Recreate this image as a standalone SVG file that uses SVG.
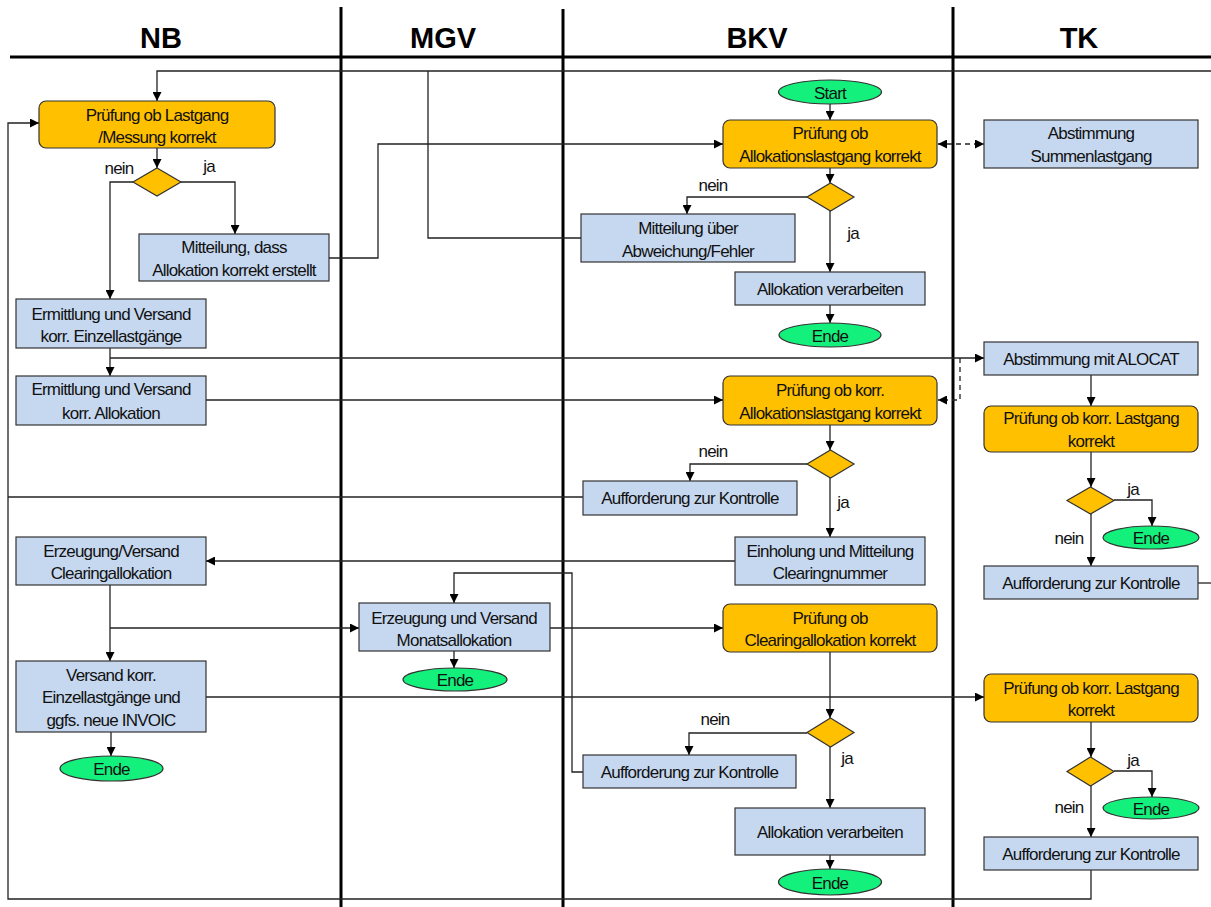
<svg xmlns="http://www.w3.org/2000/svg" width="1211" height="907" viewBox="0 0 1211 907">
<style>
text{font-family:"Liberation Sans",Arial,sans-serif;font-size:17px;letter-spacing:-0.8px;fill:#111;text-anchor:middle}
.hd{font-size:29px;font-weight:bold;fill:#000;letter-spacing:0}
.lane{stroke:#000;stroke-width:3;fill:none}
.c{stroke:#222;stroke-width:1.3;fill:none}
.ca{stroke:#222;stroke-width:1.3;fill:none;marker-end:url(#ah)}
.dash{stroke:#222;stroke-width:1.3;fill:none;stroke-dasharray:5,4}
.b{fill:#C6D8F0;stroke:#333;stroke-width:1.2}
.o{fill:#FFC000;stroke:#333;stroke-width:1.2}
.e{fill:#14F07C;stroke:#333;stroke-width:1.2}
</style>
<defs>
<marker id="ah" viewBox="0 0 10 10" refX="10" refY="5" markerWidth="9" markerHeight="9" markerUnits="userSpaceOnUse" orient="auto-start-reverse"><path d="M0,0 L10,5 L0,10 z" fill="#000"/></marker>
</defs>
<rect width="1211" height="907" fill="#fff"/>
<g id="lanes">
<line class="lane" x1="10" y1="57" x2="1211" y2="57"/>
<line class="lane" x1="341" y1="7" x2="341" y2="907"/>
<line class="lane" x1="563" y1="9" x2="563" y2="907"/>
<line class="lane" x1="953" y1="7" x2="953" y2="907"/>
<text class="hd" x="161" y="48">NB</text>
<text class="hd" x="443" y="48">MGV</text>
<text class="hd" x="757" y="48">BKV</text>
<text class="hd" x="1079" y="48">TK</text>
</g>
<g id="connectors">
<path class="ca" d="M830,104 V120"/>
<path class="ca" d="M830,168 V183"/>
<path class="ca" d="M807,197 H687 V214"/>
<path class="ca" d="M830,211 V272"/>
<path class="ca" d="M830,305 V323"/>
<path class="dash" d="M938,144 H984" marker-start="url(#ah)" marker-end="url(#ah)"/>
<path class="ca" d="M1211,71 H157 V101"/>
<path class="c" d="M581,238 H428 V71"/>
<path class="ca" d="M157,148 V168"/>
<path class="ca" d="M133,182 H110 V299"/>
<path class="ca" d="M180,182 H235 V234"/>
<path class="ca" d="M329,258 H378 V144 H723"/>
<path class="ca" d="M110,348 V376"/>
<path class="ca" d="M110,358 H984"/>
<path class="ca" d="M206,400 H723"/>
<path class="ca" d="M1091,375 V406"/>
<path class="dash" d="M960,358 V400 H938" marker-end="url(#ah)"/>
<path class="ca" d="M830,425 V450"/>
<path class="ca" d="M807,464 H690 V481"/>
<path class="ca" d="M830,478 V537"/>
<path class="c" d="M583,497 H8"/>
<path class="ca" d="M1091,870 V899 H8 V123 H39"/>
<path class="ca" d="M735,561 H206"/>
<path class="ca" d="M110,585 V661"/>
<path class="ca" d="M110,628 H359"/>
<path class="ca" d="M550,628 H723"/>
<path class="ca" d="M454,651 V668"/>
<path class="ca" d="M583,772 H572 V573 H454 V603"/>
<path class="ca" d="M830,652 V718"/>
<path class="ca" d="M807,733 H689 V755"/>
<path class="ca" d="M830,747 V808"/>
<path class="ca" d="M830,855 V869"/>
<path class="ca" d="M206,697 H984"/>
<path class="ca" d="M111,732 V756"/>
<path class="ca" d="M1091,452 V487"/>
<path class="ca" d="M1114,500 H1152 V526"/>
<path class="ca" d="M1091,514 V566"/>
<path class="c" d="M1198,583 H1211"/>
<path class="ca" d="M1091,722 V757"/>
<path class="ca" d="M1114,771 H1152 V797"/>
<path class="ca" d="M1091,786 V837"/>
</g>
<g id="labels">
<text x="119" y="174">nein</text>
<text x="209" y="172">ja</text>
<text x="713" y="191">nein</text>
<text x="853" y="239">ja</text>
<text x="713" y="457">nein</text>
<text x="843" y="508">ja</text>
<text x="715" y="725">nein</text>
<text x="847" y="764">ja</text>
<text x="1133" y="495">ja</text>
<text x="1069" y="544">nein</text>
<text x="1133" y="766">ja</text>
<text x="1069" y="813">nein</text>
</g>
<g id="nb_pruefung"><rect class="o" x="39" y="101" width="236" height="47" rx="7"/><text x="157" y="121">Prüfung ob Lastgang</text><text x="157" y="143">/Messung korrekt</text></g>
<g id="nb_dec"><polygon class="o" points="157,168 181,182 157,196 133,182"/></g>
<g id="nb_mitteilung"><rect class="b" x="139" y="234" width="190" height="47"/><text x="234" y="253">Mitteilung, dass</text><text x="234" y="276">Allokation korrekt erstellt</text></g>
<g id="nb_ermittlung1"><rect class="b" x="16" y="299" width="190" height="49"/><text x="111" y="320">Ermittlung und Versand</text><text x="111" y="342">korr.  Einzellastgänge</text></g>
<g id="nb_ermittlung2"><rect class="b" x="16" y="376" width="190" height="49"/><text x="111" y="395">Ermittlung und Versand</text><text x="111" y="419">korr. Allokation</text></g>
<g id="nb_erzeugung"><rect class="b" x="16" y="537" width="190" height="48"/><text x="111" y="557">Erzeugung/Versand</text><text x="111" y="579">Clearingallokation</text></g>
<g id="nb_versand"><rect class="b" x="16" y="661" width="190" height="71"/><text x="111" y="681">Versand korr.</text><text x="111" y="703">Einzellastgänge und</text><text x="111" y="726">ggfs. neue INVOIC</text></g>
<g id="nb_ende"><ellipse class="e" cx="111.5" cy="768.5" rx="51.5" ry="12.5"/><text x="111.5" y="775">Ende</text></g>
<g id="mgv_monat"><rect class="b" x="359" y="603" width="191" height="48"/><text x="454" y="624">Erzeugung und Versand</text><text x="454" y="646">Monatsallokation</text></g>
<g id="mgv_ende"><ellipse class="e" cx="455" cy="679.5" rx="52" ry="11.5"/><text x="455" y="686">Ende</text></g>
<g id="bkv_start"><ellipse class="e" cx="830" cy="92" rx="51.5" ry="12"/><text x="830" y="98.5">Start</text></g>
<g id="bkv_pruef1"><rect class="o" x="723" y="120" width="214" height="48" rx="7"/><text x="830" y="139">Prüfung ob</text><text x="830" y="162">Allokationslastgang korrekt</text></g>
<g id="bkv_dec1"><polygon class="o" points="830.5,183 854,197 830.5,211 807,197"/></g>
<g id="bkv_mitteilung"><rect class="b" x="581" y="214" width="214" height="48"/><text x="688" y="234">Mitteilung über</text><text x="688" y="257">Abweichung/Fehler</text></g>
<g id="bkv_verarb1"><rect class="b" x="735" y="272" width="190" height="33"/><text x="830" y="295">Allokation verarbeiten</text></g>
<g id="bkv_ende1"><ellipse class="e" cx="830" cy="335" rx="51" ry="12"/><text x="830" y="341.5">Ende</text></g>
<g id="bkv_pruef2"><rect class="o" x="723" y="376" width="214" height="49" rx="7"/><text x="830" y="396">Prüfung ob korr.</text><text x="830" y="419">Allokationslastgang korrekt</text></g>
<g id="bkv_dec2"><polygon class="o" points="830.5,450 854,464 830.5,478 807,464"/></g>
<g id="bkv_auff1"><rect class="b" x="583" y="481" width="214" height="34"/><text x="690" y="504">Aufforderung zur Kontrolle</text></g>
<g id="bkv_einholung"><rect class="b" x="735" y="537" width="190" height="48"/><text x="830" y="557">Einholung und Mitteilung</text><text x="830" y="579">Clearingnummer</text></g>
<g id="bkv_pruef3"><rect class="o" x="723" y="604" width="214" height="48" rx="7"/><text x="830" y="624">Prüfung ob</text><text x="830" y="646">Clearingallokation korrekt</text></g>
<g id="bkv_dec3"><polygon class="o" points="830.5,718 854,732.5 830.5,747 807,732.5"/></g>
<g id="bkv_auff2"><rect class="b" x="583" y="755" width="213" height="33"/><text x="689.5" y="778">Aufforderung zur Kontrolle</text></g>
<g id="bkv_verarb2"><rect class="b" x="735" y="808" width="190" height="47"/><text x="830" y="838">Allokation verarbeiten</text></g>
<g id="bkv_ende2"><ellipse class="e" cx="830" cy="882" rx="51.5" ry="13"/><text x="830" y="888.5">Ende</text></g>
<g id="tk_summen"><rect class="b" x="984" y="120" width="214" height="48"/><text x="1091" y="139">Abstimmung</text><text x="1091" y="162">Summenlastgang</text></g>
<g id="tk_alocat"><rect class="b" x="984" y="342" width="214" height="33"/><text x="1091" y="365">Abstimmung mit ALOCAT</text></g>
<g id="tk_pruef1"><rect class="o" x="984" y="406" width="214" height="46" rx="7"/><text x="1091" y="424">Prüfung ob korr. Lastgang</text><text x="1091" y="447">korrekt</text></g>
<g id="tk_dec1"><polygon class="o" points="1090.5,487 1114,500.5 1090.5,514 1067,500.5"/></g>
<g id="tk_ende1"><ellipse class="e" cx="1151" cy="537.5" rx="48" ry="11.5"/><text x="1151" y="544">Ende</text></g>
<g id="tk_auff1"><rect class="b" x="984" y="566" width="214" height="33"/><text x="1091" y="589">Aufforderung zur Kontrolle</text></g>
<g id="tk_pruef2"><rect class="o" x="984" y="674" width="214" height="48" rx="7"/><text x="1091" y="694">Prüfung ob korr. Lastgang</text><text x="1091" y="716">korrekt</text></g>
<g id="tk_dec2"><polygon class="o" points="1090.5,757 1114,771.5 1090.5,786 1067,771.5"/></g>
<g id="tk_ende2"><ellipse class="e" cx="1151" cy="808" rx="48" ry="11"/><text x="1151" y="814.5">Ende</text></g>
<g id="tk_auff2"><rect class="b" x="984" y="837" width="214" height="33"/><text x="1091" y="859.5">Aufforderung zur Kontrolle</text></g>
</svg>
